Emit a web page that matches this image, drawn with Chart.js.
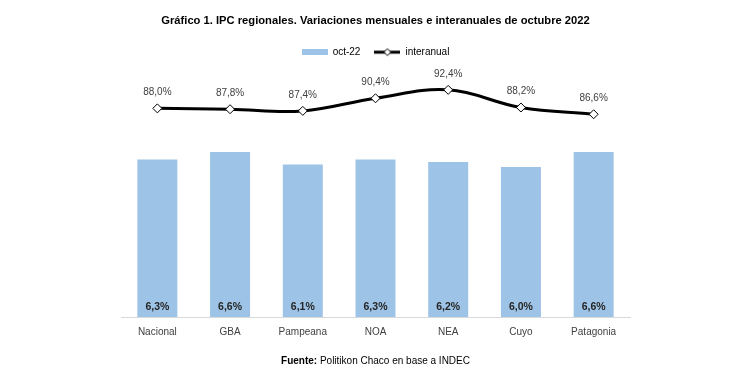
<!DOCTYPE html>
<html>
<head>
<meta charset="utf-8">
<title>IPC regionales octubre 2022</title>
<script src="https://cdn.jsdelivr.net/npm/chart.js@4/dist/chart.umd.min.js"></script>
<style>
  html, body { margin: 0; padding: 0; background: #ffffff; }
  #wrap { width: 750px; height: 389px; }
</style>
</head>
<body>
<div id="wrap"><canvas id="ipcChart" width="750" height="389"></canvas></div>
<script>

// chart data
const regiones = ['Nacional', 'GBA', 'Pampeana', 'NOA', 'NEA', 'Cuyo', 'Patagonia']
const mensual = [6.3, 6.6, 6.1, 6.3, 6.2, 6.0, 6.6]
const interanual = [88.0, 87.8, 87.4, 90.4, 92.4, 88.2, 86.6]

const FONT = "'Liberation Sans', Arial, sans-serif"
const BAR_COLOR = '#9dc3e6'

function pct(v){
  return v.toFixed(1).replace('.', ',') + '%'
}

// little images used as legend symbols
function legendRect(){
  const c = document.createElement('canvas')
  c.width = 26; c.height = 6
  const g = c.getContext('2d')
  g.fillStyle = BAR_COLOR
  g.fillRect(0, 0, 26, 6)
  return c
}

function legendLine(){
  const c = document.createElement('canvas')
  c.width = 26; c.height = 10
  const g = c.getContext('2d')
  g.strokeStyle = '#000'
  g.lineWidth = 3
  g.beginPath(); g.moveTo(0, 5); g.lineTo(26, 5); g.stroke()
  g.fillStyle = '#fff'
  g.lineWidth = 1
  g.beginPath()
  g.moveTo(13, 1.5); g.lineTo(16.5, 5); g.lineTo(13, 8.5); g.lineTo(9.5, 5); g.closePath()
  g.fill(); g.stroke()
  return c
}

// value labels over the bars and the line points
const valueLabels = {
  id: 'valueLabels',
  afterDatasetsDraw(chart){
    const ctx = chart.ctx
    ctx.save()
    ctx.textAlign = 'center'
    ctx.textBaseline = 'middle'

    const bars = chart.getDatasetMeta(0)
    ctx.font = 'bold 10.5px ' + FONT
    ctx.fillStyle = '#262626'
    bars.data.forEach((el, i) => {
      ctx.fillText(pct(mensual[i]), el.x, el.base - 10)
    })

    const pts = chart.getDatasetMeta(1)
    ctx.font = '10px ' + FONT
    ctx.fillStyle = '#404040'
    pts.data.forEach((el, i) => {
      ctx.fillText(pct(interanual[i]), el.x, el.y - 16)
    })
    ctx.restore()
  }
}

// source line under the chart (bold + normal text)
const footer = {
  id: 'footer',
  afterDraw(chart){
    const ctx = chart.ctx
    const a = chart.chartArea
    const bold = 'Fuente:'
    const rest = ' Politikon Chaco en base a INDEC'
    ctx.save()
    ctx.textBaseline = 'middle'
    ctx.textAlign = 'left'
    ctx.fillStyle = '#000'
    ctx.font = 'bold 10px ' + FONT
    const w1 = ctx.measureText(bold).width
    ctx.font = '10px ' + FONT
    const w2 = ctx.measureText(rest).width
    let x = (a.left + a.right) / 2 - (w1 + w2) / 2
    ctx.font = 'bold 10px ' + FONT
    ctx.fillText(bold, x, 361)
    ctx.font = '10px ' + FONT
    ctx.fillText(rest, x + w1, 361)
    ctx.restore()
  }
}

const ctx = document.getElementById('ipcChart').getContext('2d')

new Chart(ctx, {
  type: 'bar',
  data: {
    labels: regiones,
    datasets: [
      {
        label: 'oct-22',
        data: mensual,
        backgroundColor: BAR_COLOR,
        barPercentage: 0.55,
        categoryPercentage: 1,
        yAxisID: 'y',
        order: 1
      },
      {
        type: 'line',
        label: 'interanual',
        data: interanual,
        borderColor: '#000',
        borderWidth: 3,
        tension: 0.38,
        pointStyle: 'rectRot',
        pointRadius: 4.5,
        pointBackgroundColor: '#fff',
        pointBorderColor: '#000',
        pointBorderWidth: 1,
        clip: false,
        yAxisID: 'y2',
        order: 0
      }
    ]
  },
  options: {
    responsive: false,
    animation: false,
    layout: {
      padding: { left: 121, right: 120, top: 0, bottom: 42 }
    },
    plugins: {
      title: {
        display: true,
        text: 'Gráfico 1. IPC regionales. Variaciones mensuales e interanuales de octubre 2022',
        color: '#000',
        font: { family: FONT, size: 11.2, weight: 'bold' },
        padding: { top: 14.3, bottom: 5.4 }
      },
      legend: {
        display: true,
        labels: {
          color: '#262626',
          font: { family: FONT, size: 10 },
          usePointStyle: true,
          pointStyleWidth: 26,
          boxHeight: 10,
          padding: 14,
          generateLabels(chart){
            const imgs = [legendRect(), legendLine()]
            return chart.data.datasets.map((ds, i) => ({
              text: ds.label,
              datasetIndex: i,
              pointStyle: imgs[i],
              fillStyle: 'transparent',
              strokeStyle: 'transparent',
              lineWidth: 0,
              hidden: false
            }))
          }
        }
      },
      tooltip: { enabled: false }
    },
    scales: {
      x: {
        grid: { drawOnChartArea: false, drawTicks: false },
        border: { display: true, color: '#d9d9d9', width: 1 },
        ticks: {
          color: '#404040',
          padding: 9,
          font: { family: FONT, size: 10 }
        }
      },
      y: {
        display: false,
        min: 0,
        max: 10
      },
      y2: {
        display: false,
        min: 38.4,
        max: 97.8
      }
    }
  },
  plugins: [valueLabels, footer]
})

</script>
</body>
</html>
